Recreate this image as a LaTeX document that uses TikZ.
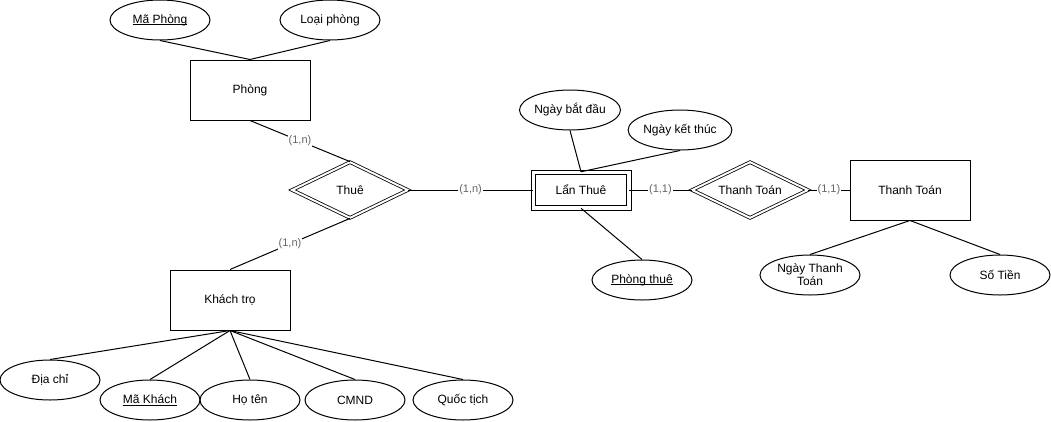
\documentclass[tikz,border=0pt]{standalone}
\usepackage{fontspec}
\setmainfont{Liberation Sans}
\usetikzlibrary{shapes.geometric}
\newcommand\keyattr[1]{\leavevmode\setbox0\hbox{#1}\rlap{\rule[-1.9pt]{\wd0}{0.8pt}}\box0}
\definecolor{cardgray}{RGB}{102,102,102}
\tikzset{
  every node/.style={font=\fontsize{12}{14}\selectfont},
  entity/.style={draw, line width=1pt, minimum width=120pt, minimum height=60pt, inner sep=0pt},
  weakentity/.style={draw, line width=1pt, double, double distance=3.5pt, minimum width=95.5pt, minimum height=35.5pt, inner sep=0pt},
  attr/.style={draw, ellipse, line width=1pt, minimum width=100pt, minimum height=40pt, inner sep=0pt, align=center},
  relation/.style={draw, diamond, line width=0.8pt, double, double distance=2pt, aspect=2, minimum width=116pt, minimum height=56pt, inner sep=0pt},
  link/.style={line width=1pt},
  card/.style={fill=white, text=cardgray, inner sep=1pt, font=\fontsize{11}{13}\selectfont}
}
\begin{document}
\begin{tikzpicture}[x=1pt, y=-1pt]
\useasboundingbox (0,0) rectangle (1051,421);

% entities
\node[entity] (phong) at (250,90) {Phòng};
\node[entity] (khach) at (230,300) {Khách trọ};
\node[weakentity] (lanthue) at (581,190) {Lẩn Thuê};
\node[entity] (thanhtoan) at (910,190) {Thanh Toán};

% relationships
\node[relation] (thue) at (350,190) {Thuê};
\node[relation] (rthanhtoan) at (750,190) {Thanh Toán};

% attributes of Phòng
\node[attr] (maphong) at (160,20) {\keyattr{Mã Phòng}};
\node[attr] (loaiphong) at (330,20) {Loại phòng};

% attributes of Lẩn Thuê
\node[attr] (batdau) at (570,110) {Ngày bắt đầu};
\node[attr] (ketthuc) at (680,130) {Ngày kết thúc};
\node[attr] (phongthue) at (642,280) {\keyattr{Phòng thuê}};

% attributes of Thanh Toán
\node[attr] (ngaytt) at (810,275) {Ngày Thanh\\[-1pt]Toán};
\node[attr] (sotien) at (1000,275) {Số Tiền};

% attributes of Khách trọ
\node[attr] (diachi) at (50,380) {Địa chỉ};
\node[attr] (makhach) at (150,400) {\keyattr{Mã Khách}};
\node[attr] (hoten) at (250,400) {Họ tên};
\node[attr] (cmnd) at (355,400) {CMND};
\node[attr] (quoctich) at (463,400) {Quốc tịch};

% attribute links
\draw[link] (maphong.south) -- (phong.north);
\draw[link] (loaiphong.south) -- (phong.north);
\draw[link] (batdau.south) -- (lanthue.north);
\draw[link] (ketthuc.south) -- (lanthue.north);
\draw[link] (lanthue.south) -- (phongthue.north);
\draw[link] (thanhtoan.south) -- (ngaytt.north);
\draw[link] (thanhtoan.south) -- (sotien.north);
\draw[link] (khach.south) -- (diachi.north);
\draw[link] (khach.south) -- (makhach.north);
\draw[link] (khach.south) -- (hoten.north);
\draw[link] (khach.south) -- (cmnd.north);
\draw[link] (khach.south) -- (quoctich.north);

% relationship links with cardinalities
\draw[link] (phong.south) -- node[card] {(1,n)} (thue.north);
\draw[link] (thue.south) -- node[card] {(1,n)} (khach.north);
\draw[link] (thue.east) -- node[card] {(1,n)} (lanthue.west);
\draw[link] (lanthue.east) -- node[card] {(1,1)} (rthanhtoan.west);
\draw[link] (rthanhtoan.east) -- node[card] {(1,1)} (thanhtoan.west);
\end{tikzpicture}
\end{document}
